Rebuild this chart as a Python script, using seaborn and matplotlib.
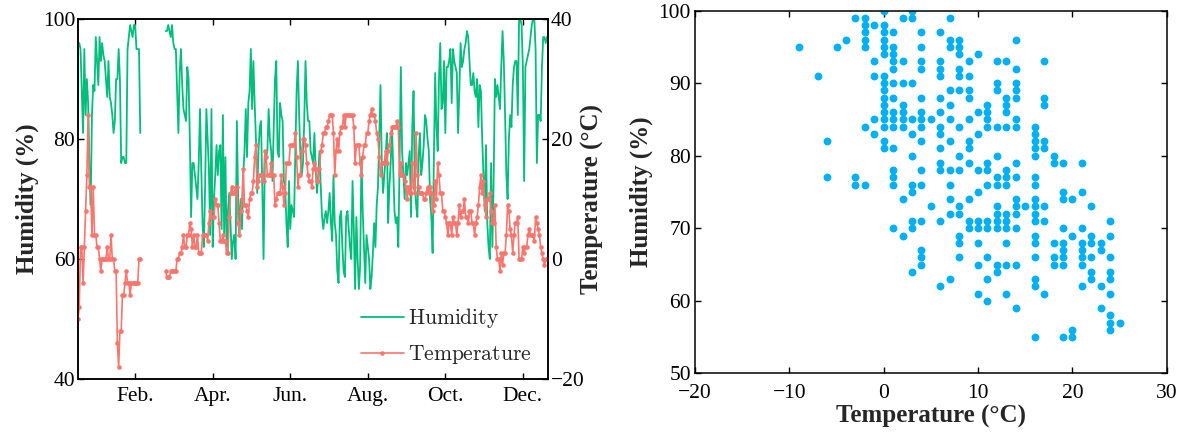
import numpy as np
import pandas as pd
import matplotlib
matplotlib.use('Agg')
import matplotlib.pyplot as plt
import seaborn as sns
from matplotlib.lines import Line2D

# ---------------- data ----------------
N = None
humidity = [
    96, 96, 95, 88, 81, 95, 84, 90, 86, 75,
    69, 84, 89, 88, 97, 93, 89, 97, 93, 96,
    94, 93, 90, 87, 93, 87, 86, 84, 81, 83,
    90, 90, 95, 90, 76, 77, 77, 76, 76, 95,
    97, 99, 98, 97, 99, 99, 95, 95, 95, 81,
    N, N, N, N, N, N, N, N, N, N,
    N, N, N, N, N, N, N, N, N, 98,
    98, 99, 98, 97, 99, 96, 95, 95, 88, 81,
    91, 95, 89, 85, 84, 83, 92, 90, 80, 67,
    76, 76, 74, 72, 70, 76, 85, 75, 66, 62,
    72, 85, 80, 75, 64, 85, 62, 70, 74, 79,
    74, 78, 79, 65, 84, 64, 77, 61, 68, 71,
    66, 60, 63, 64, 60, 83, 70, 64, 70, 65,
    74, 78, 85, 77, 86, 88, 95, 85, 93, 86,
    80, 71, 78, 82, 83, 72, 60, 76, 77, 78,
    85, 80, 78, 73, 82, 90, 93, 78, 77, 86,
    84, 83, 73, 72, 66, 62, 73, 65, 69, 68,
    67, 78, 88, 93, 84, 77, 74, 76, 83, 93,
    86, 83, 83, 78, 77, 76, 81, 75, 71, 74,
    78, 72, 67, 65, 67, 68, 66, 68, 71, 66,
    63, 74, 66, 64, 58, 56, 67, 68, 62, 58,
    57, 67, 68, 65, 62, 60, 73, 65, 55, 67,
    60, 55, 59, 77, 68, 62, 56, 64, 62, 60,
    55, 57, 61, 66, 62, 69, 72, 80, 89, 76,
    71, 74, 77, 81, 66, 72, 76, 82, 75, 68,
    66, 67, 62, 76, 92, 78, 74, 70, 76, 74,
    76, 78, 67, 82, 88, 73, 69, 67, 77, 81,
    74, 76, 79, 84, 83, 80, 78, 70, 67, 61,
    77, 91, 82, 78, 90, 96, 85, 86, 93, 81,
    92, 92, 93, 95, 86, 95, 93, 92, 91, 81,
    88, 96, 92, 93, 95, 96, 98, 97, 93, 89,
    89, 91, 88, 87, 90, 82, 89, 88, 80, 74,
    68, 79, 66, 62, 60, 76, 62, 73, 90, 87,
    89, 87, 85, 92, 98, 93, 84, 74, 70, 80,
    84, 82, 89, 92, 93, 93, 84, 100, 100, 99,
    92, 73, 92, 93, 94, 95, 97, 99, 100, 100,
    95, 76, 84, 84, 83, 92, 97, 97, 96, 97,
]
temperature = [
    -10, -8, 2, 2, -4, 2, 8, 14, 24, 12,
    12, 4, 12, 4, 4, 2, 2, 0, -2, 0,
    0, 0, 0, 2, 0, 0, 4, 0, 0, -2,
    -2, -14, -18, -12, -12, -6, -6, -4, -2, -4,
    -4, -6, -4, -4, -4, -4, -4, -4, 0, 0,
    N, N, N, N, N, N, N, N, N, N,
    N, N, N, N, N, N, N, N, N, -2,
    -3, -3, -3, -2, -2, -2, -2, -2, 0, 0,
    1, 1, 2, 4, 2, 2, 4, 4, 6, 5,
    2, 4, 2, 2, 4, 1, 1, 1, 4, 4,
    4, 4, 3, 6, 8, 7, 7, 7, 10, 9,
    9, 6, 3, 3, 4, 3, 3, 1, 1, 7,
    11, 12, 11, 11, 12, 12, 6, 4, 8, 10,
    15, 9, 9, 8, 7, 10, 11, 11, 13, 17,
    19, 12, 13, 14, 14, 14, 13, 18, 17, 14,
    14, 14, 16, 14, 14, 9, 10, 11, 11, 11,
    14, 12, 9, 11, 16, 16, 16, 19, 19, 19,
    19, 21, 17, 12, 14, 14, 18, 20, 20, 19,
    16, 14, 13, 13, 12, 15, 16, 15, 13, 13,
    15, 18, 19, 21, 21, 22, 22, 23, 24, 24,
    24, 21, 14, 18, 20, 18, 21, 22, 22, 24,
    22, 24, 24, 24, 24, 24, 24, 22, 16, 19,
    19, 19, 16, 14, 17, 19, 19, 21, 21, 23,
    24, 25, 24, 24, 23, 21, 20, 17, 14, 16,
    16, 16, 18, 16, 18, 19, 21, 22, 22, 22,
    22, 23, 22, 14, 16, 14, 14, 13, 12, 10,
    12, 11, 11, 16, 12, 11, 21, 14, 12, 11,
    11, 11, 10, 10, 11, 12, 11, 12, 11, 8,
    9, 13, 10, 16, 14, 11, 11, 8, 8, 7,
    6, 4, 6, 6, 4, 7, 6, 6, 4, 6,
    9, 7, 8, 8, 10, 7, 7, 6, 8, 8,
    6, 6, 4, 6, 7, 9, 12, 14, 11, 13,
    9, 7, 10, 10, 11, 8, 6, 6, 9, 2,
    0, 0, -2, 1, -1, 1, 1, 4, 9, 8,
    5, 4, 1, 4, 6, 6, 7, 0, 0, 0,
    2, 1, 2, 2, 4, 5, 4, 4, 4, 3,
    7, 6, 5, 4, 2, 1, 0, -1, 0, 0,
]
month_labels = ['Feb.', 'Apr.', 'Jun.', 'Aug.', 'Oct.', 'Dec.']
month_ticks = [45, 106, 167, 228, 289, 350]

sc_temp = (
    [-9] + [-7] + [-6] * 2 + [-5] + [-4] + [-3] * 3 + [-2] * 7 + [-1] * 5
    + [0] * 16 + [1] * 15 + [2] * 9 + [3] * 11 + [4] * 15 + [5] * 2
    + [6] * 13 + [7] * 12 + [8] * 14 + [9] * 11 + [10] * 10 + [11] * 12
    + [12] * 13 + [13] * 14 + [14] * 15 + [15] + [16] * 17 + [17] * 8
    + [18] * 5 + [19] * 9 + [20] * 4 + [21] * 8 + [22] * 6 + [23] * 4
    + [24] * 9 + [25]
)
sc_hum = [
    95,
    91,
    82, 77,
    95,
    96,
    99, 77, 76,
    99, 98, 97, 96, 95, 84, 76,
    98, 93, 91, 85, 83,
    100, 98, 97, 96, 95, 94, 91, 90, 89, 88, 87, 86, 85, 84, 82, 81,
    97, 95, 94, 93, 92, 90, 88, 86, 85, 84, 81, 78, 77, 76, 70,
    99, 93, 90, 87, 86, 85, 84, 74, 69,
    100, 99, 90, 85, 83, 80, 76, 75, 71, 70, 64,
    97, 95, 93, 92, 88, 86, 85, 84, 82, 78, 76, 71, 67, 66, 65,
    85, 73,
    97, 93, 92, 91, 88, 86, 84, 83, 81, 79, 78, 71, 62,
    99, 96, 95, 89, 87, 85, 82, 78, 76, 74, 72, 63,
    96, 95, 94, 92, 91, 89, 84, 80, 78, 73, 72, 69, 68, 66,
    93, 91, 89, 88, 85, 82, 81, 79, 74, 71, 70,
    94, 86, 83, 78, 75, 71, 70, 68, 65, 61,
    87, 86, 85, 84, 79, 78, 76, 71, 70, 66, 63, 60,
    93, 90, 89, 84, 80, 77, 76, 73, 72, 71, 70, 65, 64,
    93, 88, 87, 86, 84, 78, 77, 76, 72, 71, 70, 68, 65, 61,
    96, 92, 90, 89, 88, 85, 84, 79, 77, 74, 73, 72, 70, 65, 59,
    73,
    84, 83, 82, 81, 80, 77, 76, 74, 73, 72, 71, 69, 68, 66, 63, 62, 55,
    93, 88, 87, 82, 81, 73, 71, 61,
    80, 79, 68, 66, 65,
    79, 75, 74, 70, 68, 67, 66, 65, 55,
    74, 69, 56, 55,
    79, 75, 70, 68, 67, 66, 65, 62,
    73, 69, 68, 66, 64, 63,
    68, 67, 62, 59,
    71, 69, 66, 64, 63, 61, 58, 57, 56,
    57,
]

# ---------------- style ----------------
sns.set_theme(style='ticks')
plt.rcParams['font.family'] = ['Liberation Serif', 'DejaVu Serif']
plt.rcParams['mathtext.fontset'] = 'cm'
plt.rcParams['axes.linewidth'] = 1.1
plt.rcParams['xtick.direction'] = 'in'
plt.rcParams['ytick.direction'] = 'in'
plt.rcParams['xtick.major.size'] = 4
plt.rcParams['ytick.major.size'] = 4
plt.rcParams['xtick.major.width'] = 1.0
plt.rcParams['ytick.major.width'] = 1.0

GREEN = '#00BF7D'
RED = '#F8766D'
BLUE = '#00B0F6'
TICK_FS = 15.5
LABEL_FS = 18

df = pd.DataFrame({'day': np.arange(len(humidity)),
                   'hum': pd.array(humidity, dtype='Float64').astype(float),
                   'temp': pd.array(temperature, dtype='Float64').astype(float)})
df['seg'] = (df['hum'].isna()).cumsum()
df = df.dropna()

fig = plt.figure(figsize=(11.85, 4.33), dpi=100)
ax = fig.add_axes([0.0658, 0.1247, 0.3969, 0.8313])
ax2 = ax.twinx()

for seg, sub in df.groupby('seg'):
    sns.lineplot(data=sub, x='day', y='hum', ax=ax, color=GREEN, lw=1.3,
                 estimator=None, sort=False)
    sns.lineplot(data=sub, x='day', y='temp', ax=ax2, color=RED, lw=1.2,
                 marker='o', markersize=3.3, markeredgewidth=0,
                 estimator=None, sort=False)

ax.set_xlim(0, 370)
ax.set_ylim(40, 100)
ax2.set_ylim(-20, 40)
ax.set_yticks([40, 60, 80, 100])
ax2.set_yticks([-20, 0, 20, 40])
ax.set_xticks(month_ticks)
ax.set_xticklabels(month_labels)
ax.set_xlabel('')
ax.set_ylabel('Humidity (%)', fontsize=LABEL_FS, fontweight='bold', labelpad=3)
ax2.set_ylabel('Temperature (°C)', fontsize=LABEL_FS, fontweight='bold',
               rotation=90, labelpad=-3)
ax.tick_params(axis='both', labelsize=TICK_FS, top=True, colors='black')
ax.tick_params(axis='x', pad=6)
ax2.tick_params(axis='y', labelsize=TICK_FS, colors='black', pad=2)
ax.tick_params(axis='y', pad=2)
for a in (ax, ax2):
    for s in a.spines.values():
        s.set_visible(True)
        s.set_color('black')

handles = [Line2D([], [], color=GREEN, lw=1.3),
           Line2D([], [], color=RED, lw=1.2, marker='o', markersize=3.3,
                  markeredgewidth=0)]
leg = ax2.legend(handles, [r'$\mathrm{Humidity}$', r'$\mathrm{Temperature}$'],
                 loc='lower right', frameon=False, fontsize=TICK_FS,
                 handlelength=2.0, labelspacing=0.6, handletextpad=0.2,
                 borderaxespad=0.2, bbox_to_anchor=(0.992, 0.0))

# ---------------- scatter ----------------
ax3 = fig.add_axes([0.5865, 0.1379, 0.3981, 0.8374])
sns.scatterplot(x=sc_temp, y=sc_hum, ax=ax3, color=BLUE, s=32, linewidth=0)
ax3.set_xlim(-20, 30)
ax3.set_ylim(50, 100)
ax3.set_xticks([-20, -10, 0, 10, 20, 30])
ax3.set_yticks([50, 60, 70, 80, 90, 100])
ax3.set_xlabel('Temperature (°C)', fontsize=LABEL_FS, fontweight='bold', labelpad=1)
ax3.set_ylabel('Humidity (%)', fontsize=LABEL_FS, fontweight='bold', labelpad=4)
ax3.tick_params(axis='both', labelsize=TICK_FS, top=True, right=True, colors='black')
ax3.tick_params(axis='x', pad=8)
ax3.tick_params(axis='y', pad=3)
for s in ax3.spines.values():
    s.set_visible(True)
    s.set_color('black')

fig.savefig('out.png', dpi=100)
